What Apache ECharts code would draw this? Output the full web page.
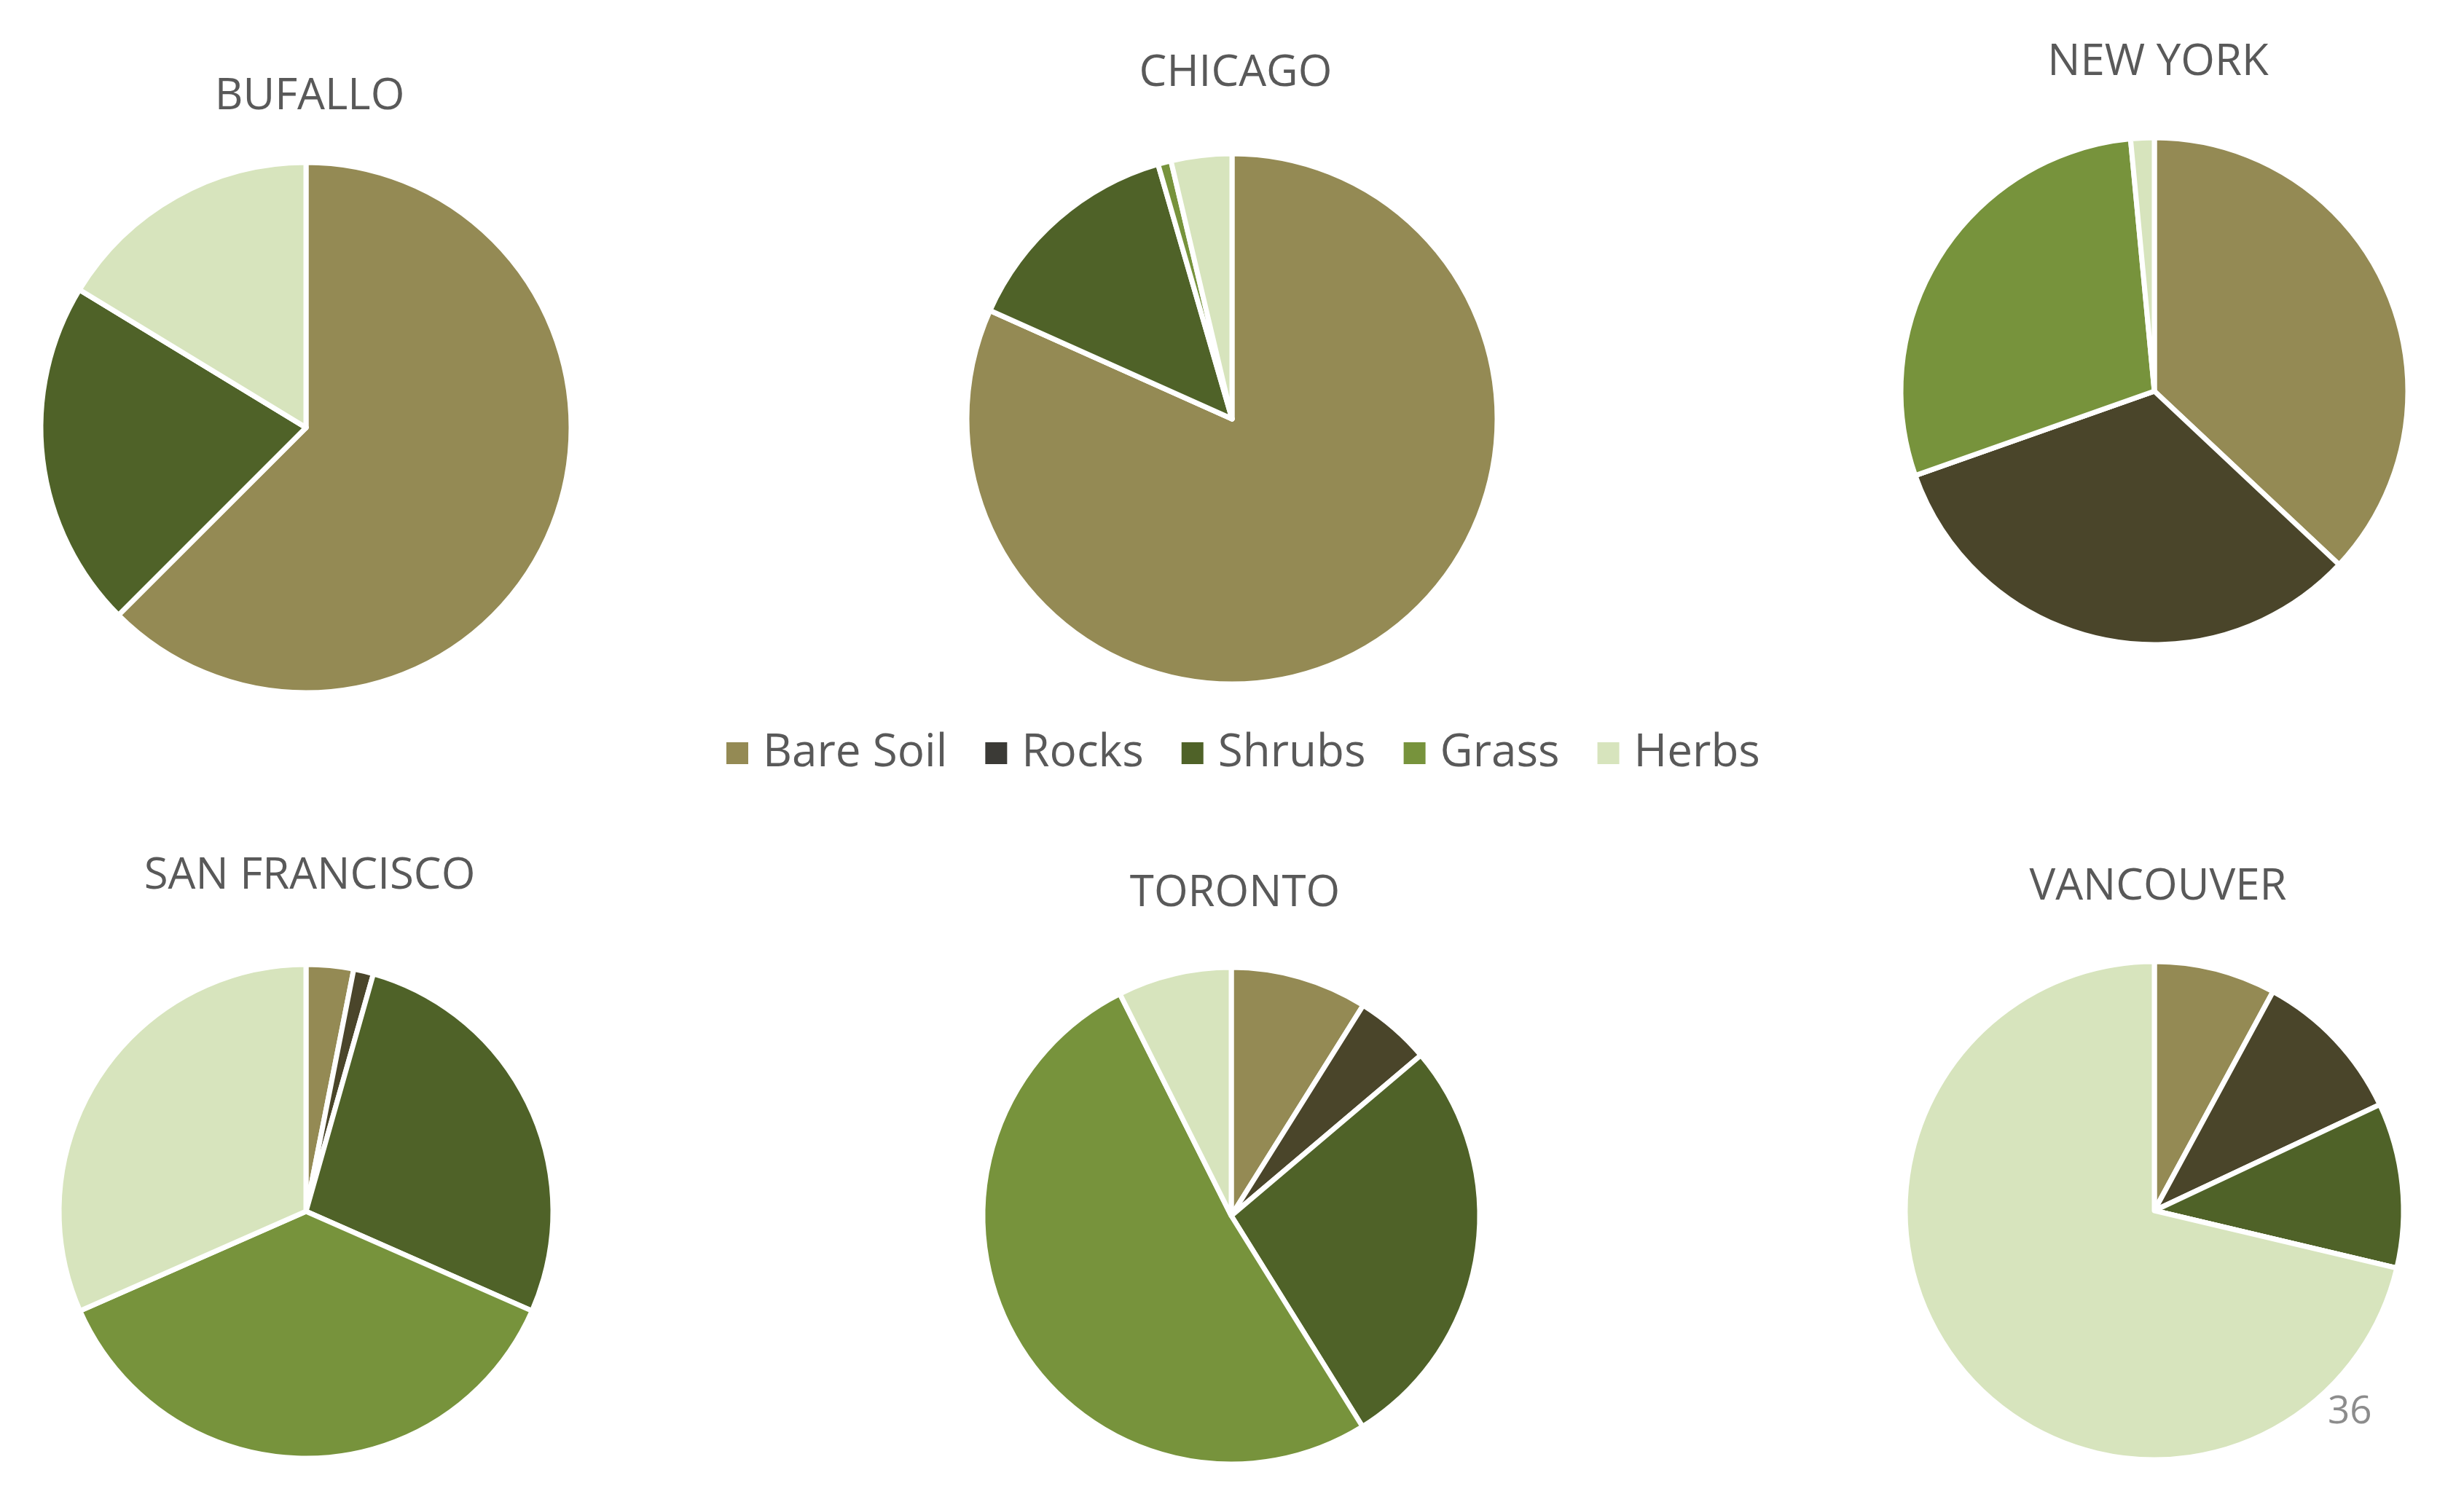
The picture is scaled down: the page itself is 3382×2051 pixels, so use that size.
<!DOCTYPE html>
<html>
<head>
<meta charset="utf-8">
<title>Ground cover by city</title>
<script src="https://cdn.jsdelivr.net/npm/echarts@6/dist/echarts.min.js"></script>
<style>
  html, body { margin: 0; padding: 0; background: #fff; }
  #chart { width: 3382px; height: 2051px; }
</style>
</head>
<body>
<div id="chart"></div>
<script>
// cover classes, same order in every pie
const coverTypes = ['Bare Soil', 'Rocks', 'Shrubs', 'Grass', 'Herbs'];
const cities = ['BUFALLO', 'CHICAGO', 'NEW YORK', 'SAN FRANCISCO', 'TORONTO', 'VANCOUVER'];

// percent share per city
const bufallo = [62.5, 0, 21.2, 0, 16.3];
const chicago = [81.7, 0, 13.8, 0.8, 3.7];
const newYork = [37.0, 32.6, 0, 28.9, 1.5];
const sanFrancisco = [3.1, 1.3, 27.2, 36.8, 31.6];
const toronto = [8.9, 4.9, 27.3, 51.4, 7.4];
const vancouver = [7.9, 10.1, 10.7, 0, 71.3];

const pageNumber = '36';

const colors = ['#948A54', '#4A452A', '#4F6228', '#77933C', '#D7E4BD'];
const font = '"Open Sans", "Noto Sans", sans-serif';
const textGray = '#595959';

// layout of each pie: center x, center y, radius, title center y
const layout = [
  { cx: 420, cy: 587, r: 364, ty: 140 },
  { cx: 1691, cy: 575, r: 364, ty: 108 },
  { cx: 2957, cy: 537, r: 348, ty: 93 },
  { cx: 420, cy: 1663, r: 339, ty: 1210 },
  { cx: 1690, cy: 1669, r: 341, ty: 1234 },
  { cx: 2957, cy: 1662, r: 342, ty: 1225 },
];
const cityData = [bufallo, chicago, newYork, sanFrancisco, toronto, vancouver];

const chart = echarts.init(document.getElementById('chart'));

chart.setOption({
  animation: false,
  color: colors,
  title: cities.map((name, i) => ({
    text: name,
    left: layout[i].cx,
    top: layout[i].ty - 42,
    textAlign: 'center',
    textStyle: { fontFamily: font, fontSize: 60, fontWeight: 'normal', color: textGray },
  })),
  legend: {
    left: 990,
    top: 998,
    icon: 'rect',
    itemWidth: 32,
    itemHeight: 32,
    itemGap: 50,
    textStyle: { fontFamily: font, fontSize: 62, color: textGray, padding: [0, 0, 0, 14] },
    data: coverTypes.map((name) =>
      name === 'Rocks' ? { name, itemStyle: { color: '#3B3A36' } } : name
    ),
  },
  graphic: [
    {
      type: 'text',
      left: 3195,
      top: 1912,
      style: { text: pageNumber, fontFamily: font, fontSize: 53, fill: '#8C8C8C' },
    },
  ],
  series: cities.map((name, i) => ({
    type: 'pie',
    name: name,
    center: [layout[i].cx, layout[i].cy],
    radius: layout[i].r,
    startAngle: 90,
    clockwise: true,
    label: { show: false },
    labelLine: { show: false },
    itemStyle: { borderColor: '#fff', borderWidth: 7 },
    emphasis: { scale: false },
    data: coverTypes.map((type, k) => ({ name: type, value: cityData[i][k] })),
  })),
});

window.addEventListener('resize', () => chart.resize());
</script>
</body>
</html>
